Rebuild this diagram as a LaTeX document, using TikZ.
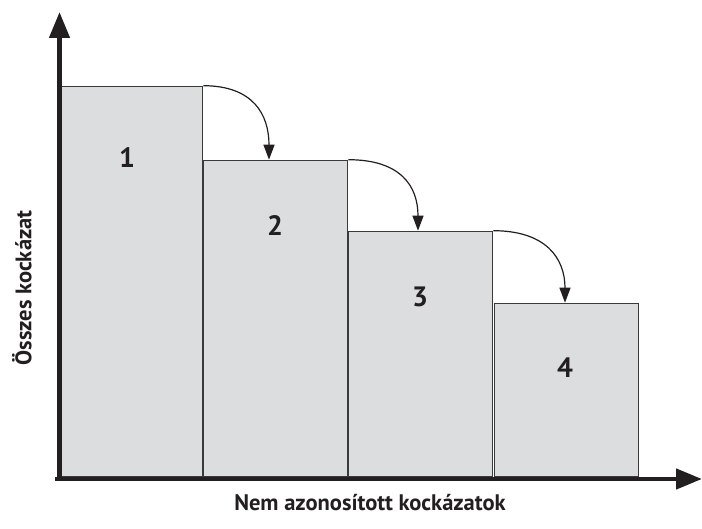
\documentclass[tikz,border=0pt]{standalone}
\usepackage{fontspec}
\setmainfont{PT Sans}
\usetikzlibrary{arrows.meta,calc}
\definecolor{barfill}{HTML}{DCDDDF}
\definecolor{barline}{HTML}{3A3A3A}
\definecolor{ink}{HTML}{231F20}
\begin{document}
\begin{tikzpicture}[x=1pt,y=-1pt,
  bar/.style={draw=barline,fill=barfill,line width=1.3pt,inner sep=0pt,
    minimum width=144pt,anchor=south west},
  barlabel/.style={font=\bfseries\fontsize{28}{32}\selectfont,text=ink},
  axislabel/.style={font=\bfseries\fontsize{22.5}{26}\selectfont,text=ink},
  axisline/.style={draw=ink,line width=4.5pt,-{Triangle[length=26pt,width=20pt]}},
  steparrow/.style={draw=ink,line width=1.2pt,-{Triangle[length=15pt,width=11pt]}}]
\useasboundingbox (0,0) rectangle (702,529);
% bars
\node[bar,minimum height=390pt] (b1) at (58,477) {};
\node[bar,minimum height=316pt] (b2) at (203,477) {};
\node[bar,minimum height=245pt] (b3) at (348,477) {};
\node[bar,minimum height=173pt] (b4) at (494,477) {};
% labels
\node[barlabel] (l1) at (127,158) {1};
\node[barlabel] (l2) at (275,226) {2};
\node[barlabel] (l3) at (420,297) {3};
\node[barlabel] (l4) at (565,368) {4};
% axes
\coordinate (o) at (55,479);
\coordinate (ytip) at (59.5,12);
\coordinate (xtip) at (702,479);
\draw[axisline] (59.5,481) -- (ytip);
\draw[axisline] (o) -- (xtip);
% step arrows
\draw[steparrow] (b1.north east) .. controls +(50,0) and +(0,-45) .. ($(b2.north west)+(66,0)$);
\draw[steparrow] (b2.north east) .. controls +(52,0) and +(0,-45) .. ($(b3.north west)+(70,0)$);
\draw[steparrow] (b3.north east) .. controls +(52,0) and +(0,-45) .. ($(b4.north west)+(71,0)$);
% axis labels
\node[axislabel] (xl) at (370,503) {Nem azonosított kockázatok};
\node[axislabel,rotate=90] (yl) at (22,288) {Összes kockázat};
\end{tikzpicture}
\end{document}
